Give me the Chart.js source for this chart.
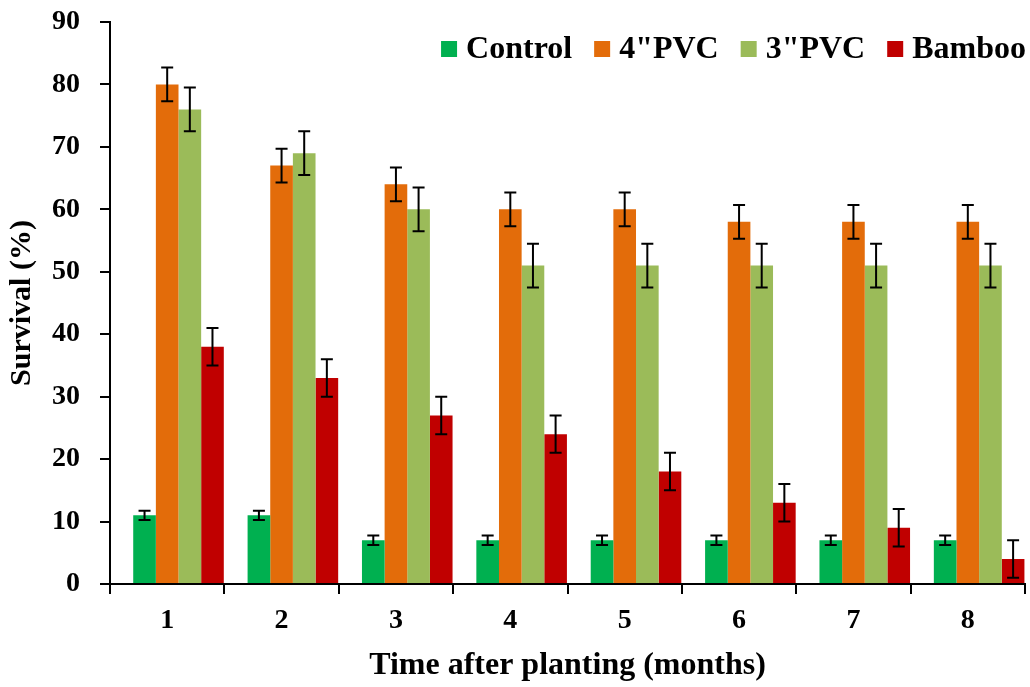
<!DOCTYPE html>
<html>
<head>
<meta charset="utf-8">
<script src="https://cdn.jsdelivr.net/npm/chart.js@4.4.0/dist/chart.umd.min.js"></script>
<style>
  body { margin: 0; background: #fff; }
  #wrap { width: 1030px; height: 687px; position: relative; }
</style>
</head>
<body>
<div id="wrap"><canvas id="survivalChart"></canvas></div>
<script>
// months after planting
var months = ['1', '2', '3', '4', '5', '6', '7', '8'];

// survival (%) per treatment
var control = [11, 11, 7, 7, 7, 7, 7, 7];
var pvc4 = [80, 67, 64, 60, 60, 58, 58, 58];
var pvc3 = [76, 69, 60, 51, 51, 51, 51, 51];
var bamboo = [38, 33, 27, 24, 18, 13, 9, 4];

// error (+/-) per treatment
var controlErr = [0.75, 0.75, 0.75, 0.75, 0.75, 0.75, 0.75, 0.75];
var pvc4Err = [2.7, 2.7, 2.7, 2.7, 2.7, 2.7, 2.7, 2.7];
var pvc3Err = [3.5, 3.5, 3.5, 3.5, 3.5, 3.5, 3.5, 3.5];
var bambooErr = [3, 3, 3, 3, 3, 3, 3, 3];

// empty slot at the start of every group
var spacer = [null, null, null, null, null, null, null, null];

var FONT = "'Liberation Serif', 'Times New Roman', serif";

// draws the +/- whiskers on top of each bar
var errorBars = {
    id: 'errorBars',
    afterDatasetsDraw: function (chart) {
        var ctx = chart.ctx;
        var yScale = chart.scales.y;
        ctx.save();
        ctx.strokeStyle = '#000';
        ctx.lineWidth = 2;
        chart.data.datasets.forEach(function (ds, i) {
            if (!ds.errors) return;
            chart.getDatasetMeta(i).data.forEach(function (bar, j) {
                var v = ds.data[j];
                var top = yScale.getPixelForValue(v + ds.errors[j]);
                var bot = yScale.getPixelForValue(v - ds.errors[j]);
                var x = bar.x, w = 6;
                ctx.beginPath();
                ctx.moveTo(x, top); ctx.lineTo(x, bot);
                ctx.moveTo(x - w, top); ctx.lineTo(x + w, top);
                ctx.moveTo(x - w, bot); ctx.lineTo(x + w, bot);
                ctx.stroke();
            });
        });
        ctx.restore();
    }
};

// legend in one row, right aligned inside the plot
var rowLegend = {
    id: 'rowLegend',
    afterDraw: function (chart) {
        var ctx = chart.ctx;
        var items = chart.data.datasets.filter(function (ds) { return ds.label; });
        var box = 16, gap = 9, itemGap = 22, yMid = 49;
        ctx.save();
        ctx.font = 'bold 32px ' + FONT;
        ctx.textBaseline = 'middle';
        ctx.textAlign = 'left';
        var total = 0;
        items.forEach(function (ds, k) {
            total += box + gap + ctx.measureText(ds.label).width + (k < items.length - 1 ? itemGap : 0);
        });
        var x = 1026 - total;
        items.forEach(function (ds) {
            ctx.fillStyle = ds.backgroundColor;
            ctx.fillRect(x, yMid - box / 2, box, box);
            x += box + gap;
            ctx.fillStyle = '#000';
            ctx.fillText(ds.label, x, yMid + 1);
            x += ctx.measureText(ds.label).width + itemGap;
        });
        ctx.restore();
    }
};

var ctx = document.getElementById('survivalChart').getContext('2d');
var chart = new Chart(ctx, {
    type: 'bar',
    data: {
        labels: months,
        datasets: [
            { label: '', data: spacer, backgroundColor: 'rgba(0,0,0,0)' },
            { label: 'Control', data: control, errors: controlErr, backgroundColor: '#00B050' },
            { label: '4"PVC', data: pvc4, errors: pvc4Err, backgroundColor: '#E36C0A' },
            { label: '3"PVC', data: pvc3, errors: pvc3Err, backgroundColor: '#9BBB59' },
            { label: 'Bamboo', data: bamboo, errors: bambooErr, backgroundColor: '#C00000' }
        ]
    },
    options: {
        responsive: true,
        maintainAspectRatio: false,
        animation: false,
        datasets: {
            bar: { categoryPercentage: 0.99, barPercentage: 1.0, borderWidth: 0 }
        },
        layout: { padding: { top: 22, right: 5, left: 0, bottom: 0 } },
        plugins: {
            legend: { display: false },
            tooltip: { enabled: false }
        },
        scales: {
            x: {
                afterFit: function (scale) { scale.height = 103; },
                grid: { display: true, drawOnChartArea: false, offset: true, tickLength: 10, color: '#000', lineWidth: 2 },
                border: { display: true, color: '#000', width: 2 },
                ticks: { color: '#000', padding: 10, font: { family: FONT, size: 28, weight: 'bold' } },
                title: {
                    display: true,
                    text: 'Time after planting (months)',
                    color: '#000',
                    padding: { top: 0, bottom: 2 },
                    font: { family: FONT, size: 32, weight: 'bold' }
                }
            },
            y: {
                min: 0,
                max: 90,
                afterFit: function (scale) {
                    scale.width = 110;
                    scale.paddingTop = 0;
                },
                grid: { display: true, drawOnChartArea: false, tickLength: 10, color: '#000', lineWidth: 2 },
                border: { display: true, color: '#000', width: 2 },
                ticks: { stepSize: 10, color: '#000', padding: 20, font: { family: FONT, size: 28, weight: 'bold' } },
                title: {
                    display: true,
                    text: 'Survival (%)',
                    color: '#000',
                    padding: { top: 4, bottom: 0 },
                    font: { family: FONT, size: 30, weight: 'bold' }
                }
            }
        }
    },
    plugins: [errorBars, rowLegend]
});
</script>
</body>
</html>
